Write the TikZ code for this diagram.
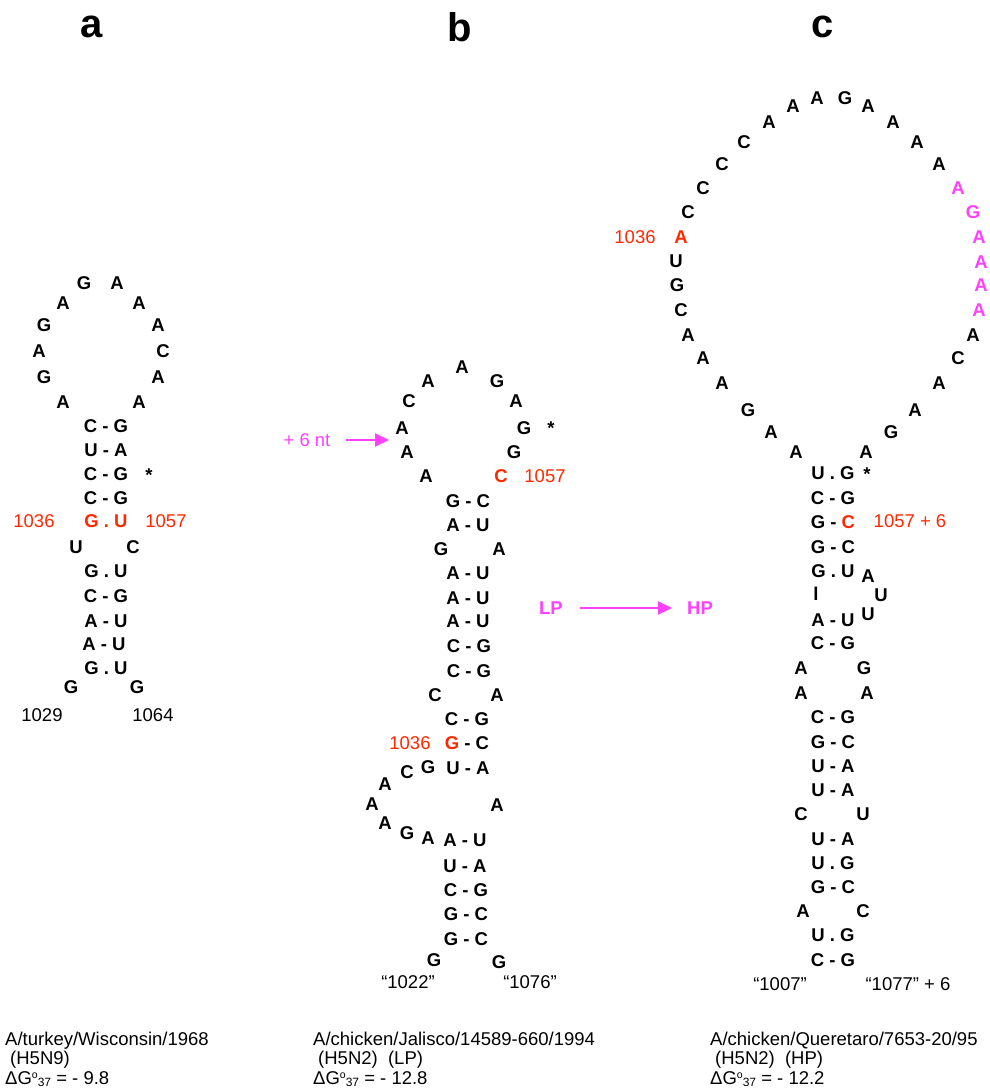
\documentclass[tikz,border=0pt]{standalone}
\usepackage{fontspec}
\setmainfont{Liberation Sans}
\usetikzlibrary{arrows.meta}
\definecolor{rd}{RGB}{255,40,0}
\definecolor{mg}{RGB}{255,64,255}
\newcommand{\dGo}{ΔG\raisebox{5.5pt}{\fontsize{10.5}{10}\selectfont o}\raisebox{-2.5pt}{\fontsize{12}{12}\selectfont 37}}
\begin{document}
\begin{tikzpicture}[x=1pt,y=-1pt,
  nt/.style={font=\fontsize{18.5}{20}\selectfont\bfseries, inner sep=0pt, anchor=center},
  lb/.style={font=\fontsize{18.5}{20}\selectfont, inner sep=0pt, anchor=center},
  startxt/.style={font=\fontsize{18.5}{20}\selectfont\bfseries, inner sep=0pt, anchor=base},
  hd/.style={font=\fontsize{40}{44}\selectfont\bfseries, inner sep=0pt, anchor=center},
  captxt/.style={font=\fontsize{18.5}{19}\selectfont, inner sep=0pt, anchor=base west},
  marr/.style={draw=mg, line width=2pt, -{Triangle[length=14pt,width=13pt]}}]
\useasboundingbox (0,0) rectangle (989,1090);
\clip (0,0) rectangle (989,1090);

% headers
\node[hd] (ha) at (92,27) {a};
\node[hd] (hb) at (460,27) {b};
\node[hd] (hc) at (823,27) {c};

% ---------- panel a ----------
\foreach \t/\x/\y [count=\i] in {G/84/283, A/117/283, A/63/303, A/139/303, G/44/325, A/158/325,
  A/39/351, C/163/351, G/44/377, A/158/377, A/63/402, A/139/402,
  C - G/106/426, U - A/106/450, C - G/106/474, C - G/106/498,
  U/76/547, C/133/547, G . U/106/571, C - G/106/596, A - U/106/621, A - U/104/644, G . U/106/668,
  G/71/687, G/137/687}
  \node[nt] (a\i) at (\x,\y) {\t};
\node[nt, text=rd] (aGU) at (106,521) {G . U};
\node[lb, text=rd] (a1036) at (34,521) {1036};
\node[lb, text=rd] (a1057) at (166,521) {1057};
\node[lb] (a1029) at (42,715) {1029};
\node[lb] (a1064) at (153,715) {1064};
\node[startxt] (astar) at (149,481) {*};

% ---------- panel b ----------
\foreach \t/\x/\y [count=\i] in {A/462/367, A/428/381, G/497/381, C/409/401, A/516/401,
  A/402/428, G/524/428, A/407/452, G/514/452, A/426/476,
  G - C/468/501, A - U/468/525, G/441/549, A/499/549, A - U/468/573, A - U/468/598, A - U/468/621,
  C - G/469/646, C - G/469/671, C/435/695, A/497/695, C - G/467/719,
  U - A/468/768, G/428/767, C/407/772, A/385/784, A/372/804, A/497/805, A/385/823, G/407/833, A/428/838,
  A - U/465/840, U - A/465/866, C - G/466/890, G - C/466/914, G - C/466/939,
  G/434/960, G/499/962}
  \node[nt] (b\i) at (\x,\y) {\t};
\node[nt] (bGC) at (467,743) {\textcolor{rd}{G} - C};
\node[nt, text=rd] (bC) at (501,476) {C};
\node[lb, text=rd] (b1057) at (545,476) {1057};
\node[lb, text=rd] (b1036) at (410,743) {1036};
\node[startxt] (bstar) at (551,434) {*};
\node[lb, text=mg] (bnt) at (307,440) {+ 6 nt};
\coordinate (bntA) at (346,440);
\coordinate (bntB) at (389,440);
\draw[marr] (bntA) -- (bntB);
\node[lb] (b1022) at (408,982) {“1022”};
\node[lb] (b1076) at (530,982) {“1076”};

% LP -> HP
\node[nt, text=mg] (LP) at (551,608) {LP};
\node[nt, text=mg] (HP) at (700,608) {HP};
\coordinate (lpa) at (580,608);
\coordinate (lpb) at (672,608);
\draw[marr] (lpa) -- (lpb);

% ---------- panel c ----------
\foreach \t/\x/\y [count=\i] in {A/796/452, A/771/432, G/748/410, A/722/383, A/703/358, A/688/335,
  C/681/310, G/677/285, U/676/261, C/688/212, C/703/188, C/722/164, C/744/142,
  A/769/122, A/793/106, A/817/98, G/845/98, A/868/106, A/893/122, A/917/142, A/939/164,
  A/973/335, C/958/358, A/939/383, A/915/410, G/891/432, A/866/452,
  U . G/833/473, C - G/833/498, G - C/833/547, G . U/833/571, A/868/576, l/816/594, U/881/595, U/868/614,
  A - U/833/620, C - G/833/643, A/801/668, G/864/668, A/801/693, A/867/693,
  C - G/833/717, G - C/833/742, U - A/833/766, U - A/833/790, C/801/814, U/863/814,
  U - A/833/839, U . G/833/863, G - C/833/887, A/803/911, C/863/911, U . G/833/935, C - G/833/960}
  \node[nt] (c\i) at (\x,\y) {\t};
\foreach \t/\x/\y [count=\i] in {A/958/188, G/973/212, A/979/237, A/981/262, A/981/285, A/979/310}
  \node[nt, text=mg] (m\i) at (\x,\y) {\t};
\node[nt, text=rd] (cA) at (681,237) {A};
\node[lb, text=rd] (c1036) at (635,237) {1036};
\node[nt] (cGC) at (833,522) {G - \textcolor{rd}{C}};
\node[lb, text=rd] (c1057) at (910,521) {1057 + 6};
\node[startxt] (cstar) at (867,480) {*};
\node[lb] (c1007) at (780,984) {“1007”};
\node[lb] (c1077) at (908,984) {“1077” + 6};

% ---------- captions ----------
\node[captxt] (ta1) at (5,1045) {A/turkey/Wisconsin/1968};
\node[captxt] (ta2) at (10,1064) {(H5N9)};
\node[captxt] (ta3) at (5,1084) {\dGo{} = - 9.8};
\node[captxt] (tb1) at (313,1045) {A/chicken/Jalisco/14589-660/1994};
\node[captxt] (tb2) at (318,1064) {(H5N2) \ (LP)};
\node[captxt] (tb3) at (313,1084) {\dGo{} = - 12.8};
\node[captxt] (tc1) at (710,1045) {A/chicken/Queretaro/7653-20/95};
\node[captxt] (tc2) at (715,1064) {(H5N2) \ (HP)};
\node[captxt] (tc3) at (710,1084) {\dGo{} = - 12.2};
\end{tikzpicture}
\end{document}
